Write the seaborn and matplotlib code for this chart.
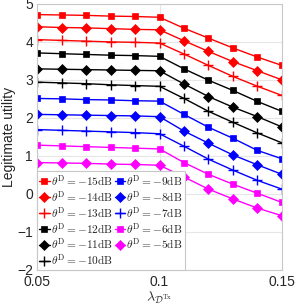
import matplotlib
matplotlib.use("Agg")
import matplotlib.pyplot as plt
import seaborn as sns
import pandas as pd

lam = [0.05, 0.06, 0.07, 0.08, 0.09, 0.10, 0.11, 0.12, 0.13, 0.14, 0.15]
theta_db = [-15, -14, -13, -12, -11, -10, -9, -8, -7, -6, -5]
u_m15 = [4.72, 4.71, 4.70, 4.68, 4.67, 4.65, 4.36, 4.10, 3.84, 3.60, 3.38]
u_m14 = [4.40, 4.38, 4.37, 4.35, 4.33, 4.32, 4.03, 3.75, 3.48, 3.24, 3.00]
u_m13 = [4.06, 4.04, 4.02, 4.00, 3.99, 3.97, 3.68, 3.38, 3.09, 2.83, 2.59]
u_m12 = [3.71, 3.69, 3.67, 3.65, 3.64, 3.62, 3.29, 2.99, 2.72, 2.43, 2.17]
u_m11 = [3.29, 3.28, 3.27, 3.26, 3.25, 3.24, 2.89, 2.56, 2.28, 2.03, 1.76]
u_m10 = [2.94, 2.92, 2.90, 2.87, 2.85, 2.83, 2.51, 2.17, 1.88, 1.60, 1.34]
u_m9 = [2.51, 2.50, 2.48, 2.47, 2.45, 2.44, 2.09, 1.75, 1.46, 1.14, 0.92]
u_m8 = [2.09, 2.08, 2.07, 2.06, 2.05, 2.03, 1.65, 1.33, 1.02, 0.76, 0.51]
u_m7 = [1.69, 1.67, 1.65, 1.63, 1.61, 1.58, 1.25, 0.91, 0.62, 0.35, 0.12]
u_m6 = [1.28, 1.26, 1.24, 1.22, 1.20, 1.18, 0.82, 0.51, 0.25, 0.01, -0.23]
u_m5 = [0.82, 0.81, 0.80, 0.78, 0.77, 0.75, 0.44, 0.12, -0.14, -0.38, -0.58]
series = [u_m15, u_m14, u_m13, u_m12, u_m11, u_m10, u_m9, u_m8, u_m7, u_m6, u_m5]

colors = ['#ff0000'] * 3 + ['#000000'] * 3 + ['#0000ff'] * 3 + ['#ff00ff'] * 2
markers = ['s', 'D', '+'] * 4
msizes = {'s': 5, 'D': 5, '+': 7}

sns.set_style("whitegrid")
plt.rcParams['font.family'] = ['Liberation Sans', 'DejaVu Sans']
plt.rcParams['mathtext.fontset'] = 'cm'

fig = plt.figure(figsize=(2.99, 3.06), dpi=100)
ax = fig.add_axes([0.124, 0.119, 0.819, 0.868])

for vals, db, c, m in zip(series, theta_db, colors, markers):
    df = pd.DataFrame({'lam': lam, 'u': vals})
    sns.lineplot(data=df, x='lam', y='u', ax=ax, color=c, marker=m,
                 markersize=msizes[m], markeredgecolor=c, markerfacecolor=c,
                 markeredgewidth=1.0 if m == '+' else 0.5, linewidth=1.0,
                 label=r'$\theta^{\rm D} = -%d{\rm dB}$' % abs(db))

ax.set_xlim(0.05, 0.15)
ax.set_ylim(-2, 5)
ax.set_xticks([0.05, 0.1, 0.15])
ax.set_xticklabels(['0.05', '0.1', '0.15'])
ax.set_yticks(range(-2, 6))
ax.tick_params(axis='both', labelsize=10, length=0, colors='#262626')
ax.tick_params(axis='x', pad=4)
ax.tick_params(axis='y', pad=3)
ax.grid(True, color='#e6e6e6', linewidth=0.8)
for s in ax.spines.values():
    s.set_color('#c8c8c8')
    s.set_linewidth(0.8)
ax.set_xlabel(r'$\lambda_{\mathcal{D}^{\rm Tx}}$', fontsize=10, labelpad=0)
ax.set_ylabel('Legitimate utility', fontsize=10, labelpad=1)

leg = ax.legend(loc='lower left', bbox_to_anchor=(0, 0), borderaxespad=0,
                ncol=2, fontsize=8.2, handlelength=0.9, handletextpad=0.15,
                columnspacing=0.1, labelspacing=0.1, borderpad=0.2,
                frameon=True, fancybox=False, framealpha=1)
leg.get_frame().set_edgecolor('#c8c8c8')
leg.get_frame().set_linewidth(0.8)

fig.savefig('out.png', dpi=100)
